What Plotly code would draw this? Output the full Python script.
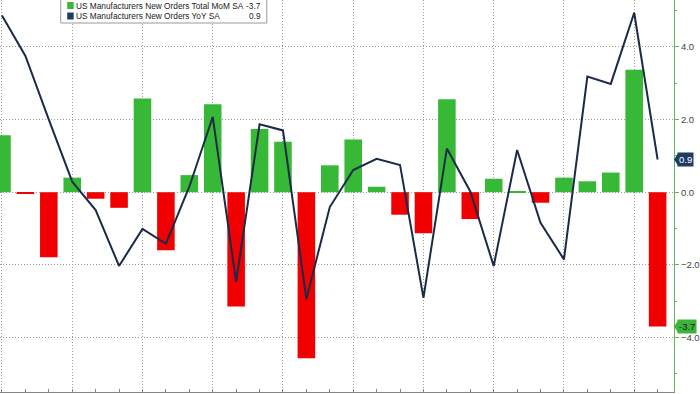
import plotly.graph_objects as go

# ---- data ----
months = ["2021-09","2021-10","2021-11","2021-12","2022-01","2022-02","2022-03","2022-04",
          "2022-05","2022-06","2022-07","2022-08","2022-09","2022-10","2022-11","2022-12",
          "2023-01","2023-02","2023-03","2023-04","2023-05","2023-06","2023-07","2023-08",
          "2023-09","2023-10","2023-11","2023-12","2024-01"]
mom = [1.57, -0.04, -1.79, 0.40, -0.18, -0.43, 2.58, -1.60, 0.47, 2.42, -3.15, 1.74, 1.39,
       -4.57, 0.74, 1.45, 0.15, -0.62, -1.13, 2.56, -0.74, 0.37, 0.02, -0.29, 0.40, 0.30,
       0.54, 3.37, -3.7]
yoy = [4.86, 3.75, 2.0, 0.29, -0.49, -2.03, -1.01, -1.42, 0.15, 2.07, -2.47, 1.87, 1.70,
       -2.94, -0.41, 0.61, 0.92, 0.75, -2.91, 1.20, 0.02, -2.03, 1.16, -0.84, -1.85, 3.18,
       2.98, 4.94, 0.9]
name_mom = "US Manufacturers New Orders Total MoM SA"
name_yoy = "US Manufacturers New Orders YoY SA"
last_mom = "-3.7"
last_yoy = "0.9"

GREEN = "#37b837"
RED = "#f00000"
NAVY = "#1b2b47"
AXGREEN = "#5cb85c"
GRID = "#9a9a9a"
GRIDDASH = "1px,2px"

W, H = 700, 394
ML, MR, MT, MB = 0, 23, 0, 2
PW, PH = W - ML - MR, H - MT - MB

x = list(range(len(months)))
colors = [GREEN if v >= 0 else RED for v in mom]

fig = go.Figure()
fig.add_trace(go.Bar(x=x, y=mom, marker=dict(color=colors, line=dict(width=0)),
                     width=0.75, name=name_mom, showlegend=False,
                     hovertext=months))
fig.add_trace(go.Scatter(x=x, y=yoy, mode="lines", line=dict(color=NAVY, width=2),
                         name=name_yoy, showlegend=False, hovertext=months))

def px_x(p):
    return (p - ML) / PW

def px_y(p):
    return 1 - (p - MT) / PH

LEGFONT = dict(family="Liberation Sans", size=8.3, color="#222")
shapes = []
annotations = []
# manual legend
shapes.append(dict(type="rect", xref="paper", yref="paper",
                   x0=px_x(61), x1=px_x(268), y0=px_y(23), y1=px_y(-3),
                   fillcolor="white", line=dict(color="#9a9a9a", width=1), layer="above"))
for i, (nm, val, col) in enumerate([(name_mom, last_mom, GREEN), (name_yoy, last_yoy, "#1f3d63")]):
    cy = 5.5 + i * 10.5
    shapes.append(dict(type="rect", xref="paper", yref="paper",
                       x0=px_x(67.5), x1=px_x(74), y0=px_y(cy + 3.5), y1=px_y(cy - 3.5),
                       fillcolor=col, line=dict(width=0), layer="above"))
    annotations.append(dict(xref="paper", yref="paper", x=px_x(74), y=px_y(cy),
                            xanchor="left", yanchor="middle", text=nm, showarrow=False,
                            font=LEGFONT))
    annotations.append(dict(xref="paper", yref="paper", x=px_x(264), y=px_y(cy),
                            xanchor="right", yanchor="middle", text=val, showarrow=False,
                            font=LEGFONT))

# last-value labels on the right axis
for val_txt, val, bg, fg in [(last_yoy, yoy[-1], "#1f3d63", "white"),
                             (last_mom, mom[-1], "#3cb43c", "#1a1a1a")]:
    annotations.append(dict(xref="paper", yref="y", x=1, y=val, xanchor="left",
                            yanchor="middle", xshift=3, text=val_txt, showarrow=False,
                            bgcolor=bg, borderpad=1,
                            font=dict(family="Liberation Sans", size=9.5, color=fg)))
    shapes.append(dict(type="path", xref="paper", yref="y", xsizemode="pixel",
                       ysizemode="pixel", xanchor=1, yanchor=val,
                       path="M 0,0 L 4,6 L 4,-6 Z", fillcolor=bg,
                       line=dict(width=0), layer="above"))

fig.update_layout(
    width=W, height=H,
    margin=dict(l=ML, r=MR, t=MT, b=MB),
    paper_bgcolor="white", plot_bgcolor="white",
    shapes=shapes, annotations=annotations,
    bargap=0.25,
    showlegend=False,
    xaxis=dict(range=[-0.085, 28.7], showticklabels=False, showgrid=True,
               gridcolor=GRID, griddash=GRIDDASH, gridwidth=1,
               tickmode="linear", tick0=0, dtick=3, ticks="inside", ticklen=3,
               tickcolor="#888", showline=True, linecolor="#888", linewidth=1,
               zeroline=False,
               minor=dict(tickmode="linear", tick0=0, dtick=1, ticks="inside",
                          ticklen=3, tickcolor="#888", showgrid=False)),
    yaxis=dict(range=[-5.50, 5.29], side="right", showgrid=True,
               gridcolor=GRID, griddash=GRIDDASH, gridwidth=1,
               tickmode="linear", tick0=0, dtick=2, tickformat=".1f",
               ticks="outside", ticklen=4, tickcolor=AXGREEN, tickwidth=1,
               showline=True, linecolor=AXGREEN, linewidth=1, zeroline=False,
               tickfont=dict(family="Liberation Sans", size=9.5, color="#444"),
               minor=dict(tickmode="linear", tick0=1, dtick=2, ticks="outside",
                          ticklen=2, tickcolor=AXGREEN, showgrid=False)),
)

fig.write_html("out.html", config={"displayModeBar": False},
               post_script="document.body.style.margin='0';document.body.style.overflow='hidden';")
